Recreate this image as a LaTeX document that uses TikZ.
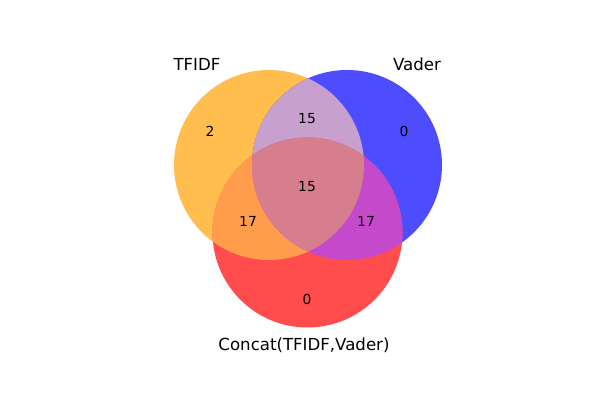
\documentclass[tikz,border=0pt]{standalone}
\usepackage{fontspec}
\setmainfont{DejaVu Sans}
\usepackage{xcolor}
\usepackage{tikz}
\definecolor{tfidfonly}{RGB}{255,190,77}
\definecolor{vaderonly}{RGB}{77,77,255}
\definecolor{concatonly}{RGB}{255,77,77}
\definecolor{tfidfvader}{RGB}{200,160,205}
\definecolor{tfidfconcat}{RGB}{255,157,77}
\definecolor{vaderconcat}{RGB}{196,74,203}
\definecolor{allthree}{RGB}{214,126,141}
\newcommand\tfidfset{(269,235) circle [radius=95]}
\newcommand\vaderset{(347,235) circle [radius=95]}
\newcommand\concatset{(307.5,167.5) circle [radius=95]}

\begin{document}
\begin{tikzpicture}[
    x=0.0254cm, y=0.0254cm,
    setlabel/.style={font=\fontsize{12}{14}\selectfont, inner sep=0pt},
    count/.style={font=\fontsize{10}{12}\selectfont, inner sep=0pt}
]
\useasboundingbox (0,0) rectangle (600,400);
% single sets
\fill[tfidfonly] \tfidfset;
\fill[vaderonly] \vaderset;
\fill[concatonly] \concatset;
% pairs
\begin{scope}
  \clip \tfidfset;
  \fill[tfidfvader] \vaderset;
  \fill[tfidfconcat] \concatset;
\end{scope}
\begin{scope}
  \clip \vaderset;
  \fill[vaderconcat] \concatset;
\end{scope}
% all three
\begin{scope}
  \clip \tfidfset;
  \clip \vaderset;
  \fill[allthree] \concatset;
\end{scope}

\node[setlabel] (tfidf) at (197,336) {TFIDF};
\node[setlabel] (vader) at (417,336) {Vader};
\node[setlabel] (concat) at (304,55) {Concat(TFIDF,Vader)};

\node[count] (n100) at (210,269) {2};
\node[count] (n010) at (404,269) {0};
\node[count] (n110) at (307,281) {15};
\node[count] (n111) at (307,213) {15};
\node[count] (n101) at (248,179) {17};
\node[count] (n011) at (366,179) {17};
\node[count] (n001) at (307,101) {0};
\end{tikzpicture}
\end{document}
